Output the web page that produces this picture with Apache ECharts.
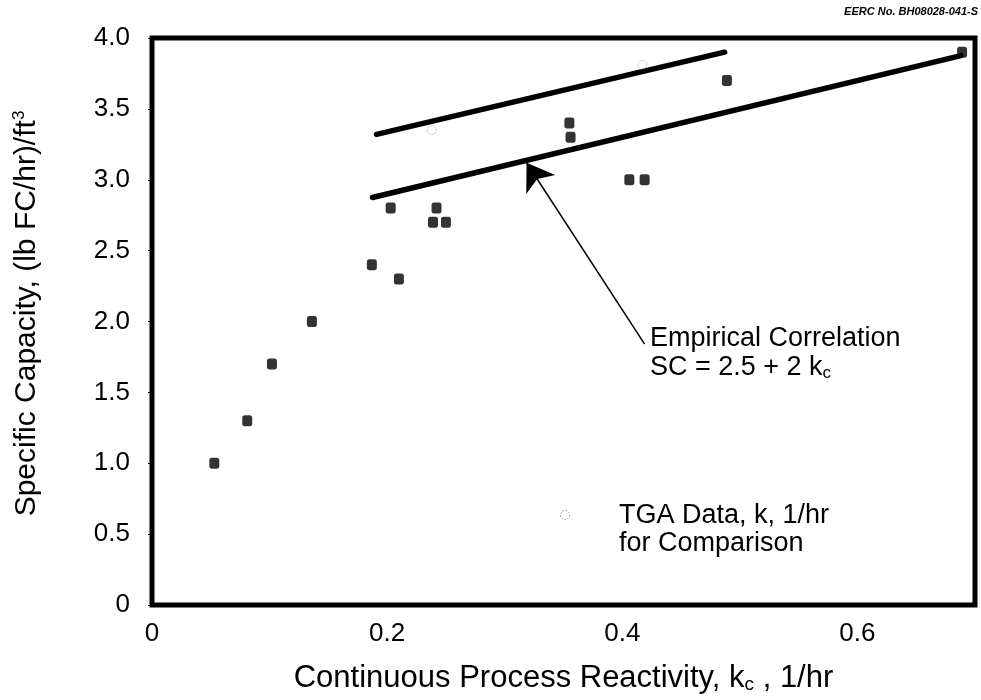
<!DOCTYPE html>
<html>
<head>
<meta charset="utf-8">
<script src="https://cdn.jsdelivr.net/npm/echarts@6/dist/echarts.min.js"></script>
<style>
html,body{margin:0;padding:0;background:#fff;}
#chart{width:981px;height:700px;}
</style>
</head>
<body>
<div id="chart"></div>
<script>
// Continuous process data: reactivity k_c (1/hr) vs specific capacity
var scKc  = [0.053, 0.081, 0.102, 0.136, 0.187, 0.203, 0.210, 0.239, 0.242, 0.250, 0.355, 0.356, 0.406, 0.419, 0.489, 0.689];
var scVal = [1.0,   1.3,   1.7,   2.0,   2.4,   2.8,   2.3,   2.7,   2.8,   2.7,   3.4,   3.3,   3.0,   3.0,   3.7,   3.9];
// TGA data for comparison
var tgaK  = [0.238, 0.417];
var tgaSC = [3.35, 3.81];
// Empirical correlation line SC = 2.5 + 2 kc (drawn segment)
var corrK  = [0.1875, 0.688];
var corrSC = [2.875, 3.876];
// Upper band line
var upperK  = [0.191, 0.487];
var upperSC = [3.32, 3.90];
// Arrow (from label to line)
var arrowK  = [0.419, 0.3186];
var arrowSC = [1.84, 3.12];
// Axis ticks
var yTicks = [0, 0.5, 1.0, 1.5, 2.0, 2.5, 3.0, 3.5, 4.0];
var xTicks = [0, 0.2, 0.4, 0.6];

function zip(a, b) { return a.map(function (v, i) { return [v, b[i]]; }); }

var FONT = '"Liberation Sans", Arial, Helvetica, sans-serif';
var chart = echarts.init(document.getElementById('chart'));
chart.setOption({
  animation: false,
  backgroundColor: '#fff',
  textStyle: { fontFamily: FONT },
  grid: { left: 152, right: 6, top: 38, bottom: 95, show: true, borderColor: '#000', borderWidth: 5, backgroundColor: 'transparent' },
  xAxis: {
    type: 'value', min: 0, max: 0.7, interval: 0.2,
    splitLine: { show: false },
    axisLine: { show: false },
    axisTick: { show: false },
    axisLabel: {
      color: '#000', fontSize: 26, fontFamily: FONT, margin: 16,
      formatter: function (v) {
        var hit = xTicks.filter(function (t) { return Math.abs(t - v) < 1e-6; });
        if (!hit.length) return '';
        return v === 0 ? '0' : v.toFixed(1);
      }
    },
    name: 'Continuous Process Reactivity, k{sub|c} , 1/hr',
    nameLocation: 'middle', nameGap: 58,
    nameTextStyle: {
      color: '#000', fontSize: 31, fontFamily: FONT,
      rich: { sub: { fontSize: 19, verticalAlign: 'bottom', padding: [10, 0, 0, 0], color: '#000', fontFamily: FONT } }
    }
  },
  yAxis: {
    type: 'value', min: 0, max: 4, interval: 0.5,
    splitLine: { show: false },
    axisLine: { show: false },
    axisTick: { show: true, length: 4, inside: false, lineStyle: { color: '#000', width: 1 } },
    axisLabel: {
      color: '#000', fontSize: 26, fontFamily: FONT, margin: 22,
      formatter: function (v) { return v === 0 ? '0' : v.toFixed(1); }
    },
    name: 'Specific Capacity, (lb FC/hr)/ft{sup|3}',
    nameLocation: 'middle', nameGap: 110,
    nameTextStyle: {
      color: '#000', fontSize: 30, fontFamily: FONT, padding: [0, 0, 0, 16],
      rich: { sup: { fontSize: 17, verticalAlign: 'top', padding: [0, 0, 14, 0], color: '#000', fontFamily: FONT } }
    }
  },
  series: [
    {
      type: 'line', data: zip(corrK, corrSC), symbol: 'none',
      lineStyle: { color: '#000', width: 5.5, cap: 'round' }, z: 3
    },
    {
      type: 'line', data: zip(upperK, upperSC), symbol: 'none',
      lineStyle: { color: '#000', width: 5.5, cap: 'round' }, z: 3
    },
    {
      type: 'scatter', data: zip(scKc, scVal), symbol: 'roundRect', symbolSize: [10, 11],
      itemStyle: { color: '#000' }, z: 4
    },
    {
      type: 'scatter', data: zip(tgaK, tgaSC), symbol: 'circle', symbolSize: 9,
      itemStyle: { color: 'rgba(0,0,0,0)', borderColor: '#999', borderWidth: 1, borderType: 'dotted' }, z: 5
    },
    {
      type: 'lines', coordinateSystem: 'cartesian2d',
      data: [{ coords: zip(arrowK, arrowSC) }],
      symbol: ['none', 'arrow'], symbolSize: 26,
      lineStyle: { color: '#000', width: 1.5, opacity: 1 }, z: 5
    }
  ],
  graphic: [
    { type: 'text', right: 3, top: 6, style: { text: 'EERC No. BH08028-041-S', font: 'italic bold 11px ' + FONT, fill: '#000' } },
    { type: 'text', left: 650, top: 324, style: {
        text: 'Empirical Correlation\nSC = 2.5 + 2 k{sub|c}', font: '27px ' + FONT, fill: '#000', lineHeight: 29,
        rich: { sub: { fontSize: 17, verticalAlign: 'bottom', padding: [9, 0, 0, 0], fill: '#000', fontFamily: FONT } }
      } },
    { type: 'text', left: 619, top: 502, style: {
        text: 'TGA Data, k, 1/hr\nfor Comparison', font: '27px ' + FONT, fill: '#000', lineHeight: 28
      } },
    { type: 'circle', shape: { cx: 565, cy: 515, r: 4.5 }, style: { fill: 'none', stroke: '#999', lineWidth: 1, lineDash: [1.5, 1.5] } }
  ]
});
</script>
</body>
</html>
